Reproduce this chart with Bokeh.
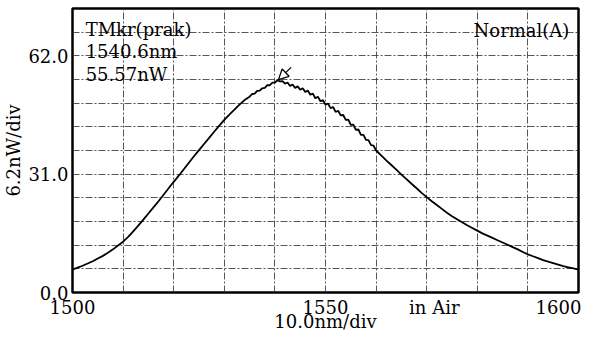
from bokeh.plotting import figure
from bokeh.models import (Range1d, FixedTicker, Label, Arrow, NormalHead, ColumnDataSource)
from bokeh.embed import file_html
from bokeh.resources import INLINE

# ---- data ----
wavelength = [1500, 1501, 1502, 1503, 1504, 1505, 1506, 1507, 1508, 1509,
              1510, 1511, 1512, 1513, 1514, 1515, 1516, 1517, 1518, 1519,
              1520, 1521, 1522, 1523, 1524, 1525, 1526, 1527, 1528, 1529,
              1530, 1531, 1532, 1533, 1534,
              1535.0, 1535.5, 1536.0, 1536.5, 1537.0, 1537.5, 1538.0, 1538.5,
              1539.0, 1539.5, 1540.0, 1540.5, 1541.0, 1541.5, 1542.0, 1542.5,
              1543.0, 1543.5, 1544.0, 1544.5, 1545.0, 1545.5, 1546.0, 1546.5,
              1547.0, 1547.5, 1548.0, 1548.5, 1549.0, 1549.5, 1550.0, 1550.5,
              1551.0, 1551.5, 1552.0, 1552.5, 1553.0, 1553.5, 1554.0, 1554.5,
              1555.0, 1555.5, 1556.0, 1556.5, 1557.0, 1557.5, 1558.0, 1558.5,
              1559.0, 1559.5, 1560.0,
              1561, 1562, 1563, 1564, 1565, 1566, 1567, 1568, 1569, 1570,
              1571, 1572, 1573, 1574, 1575, 1576, 1577, 1578, 1579, 1580,
              1581, 1582, 1583, 1584, 1585, 1586, 1587, 1588, 1589, 1590,
              1591, 1592, 1593, 1594, 1595, 1596, 1597, 1598, 1599, 1600]
power_nw = [6.0, 6.5, 7.0, 7.6, 8.2, 8.9, 9.6, 10.4, 11.3, 12.3,
            13.3, 14.6, 16.0, 17.5, 19.1, 20.7, 22.3, 23.9, 25.6, 27.3,
            29.0, 30.6, 32.3, 34.0, 35.7, 37.3, 38.9, 40.5, 42.1, 43.7,
            45.2, 46.6, 47.9, 49.2, 50.4,
            51.3, 52.0, 52.1, 52.8, 52.9, 53.5, 53.6, 54.3,
            54.3, 55.0, 55.0, 55.6, 55.3, 55.4, 54.7, 55.0,
            54.1, 54.5, 53.6, 54.0, 53.1, 53.5, 52.5, 52.9,
            51.8, 52.1, 50.9, 51.3, 50.1, 50.4, 49.2, 49.5,
            48.3, 48.6, 47.3, 47.6, 46.4, 46.5, 45.2, 45.3,
            43.9, 44.0, 42.6, 42.7, 41.3, 41.3, 40.0, 39.9,
            38.6, 38.5, 37.2,
            35.9, 34.6, 33.4, 32.2, 30.9, 29.7, 28.5, 27.3, 26.1, 25.0,
            23.9, 22.9, 21.9, 20.9, 20.0, 19.2, 18.4, 17.6, 16.9, 16.2,
            15.5, 14.9, 14.3, 13.7, 13.1, 12.5, 11.9, 11.3, 10.6, 10.0,
            9.5, 9.0, 8.5, 8.1, 7.7, 7.3, 6.9, 6.6, 6.3, 6.0]

x_ticks = [1500, 1550, 1600]
x_tick_labels = {1500: "1500", 1550: "1550", 1600: "1600" + "\u00a0" * 7}
x_axis_title = "10.0nm/div"
y_axis_title = "6.2nW/div"
y_ticks = [0, 31, 62]
y_tick_labels = {0: "0.0", 31: "31.0", 62: "62.0"}
x_grid = [1510, 1520, 1530, 1540, 1550, 1560, 1570, 1580, 1590]
y_grid = [6.2, 12.4, 18.6, 24.8, 31.0, 37.2, 43.4, 49.6, 55.8, 62.0, 68.2]
marker_wl = 1540.6
marker_pw = 55.57
marker_lines = ["TMkr(prak)", "1540.6nm", "55.57nW"]
mode_text = "Normal(A)"
medium_text = "in Air"
medium_wl = 1571.5
x_min, x_max = 1500, 1600
y_min, y_max = 0, 74.4

FONT = "DejaVu Serif"
FS = "18px"

p = figure(width=581, height=334, output_backend="svg", toolbar_location=None,
           x_range=Range1d(x_min, x_max), y_range=Range1d(y_min, y_max),
           min_border_left=0, min_border_right=3, min_border_top=8,
           min_border_bottom=0)
p.background_fill_color = "white"
p.border_fill_color = "white"
p.outline_line_color = "black"
p.outline_line_width = 2.5

# grid
p.xgrid.ticker = FixedTicker(ticks=x_grid)
p.ygrid.ticker = FixedTicker(ticks=y_grid)
for g in (p.xgrid, p.ygrid):
    g.grid_line_color = "#3a3a3a"
    g.grid_line_dash = "7 2 2 2"
    g.grid_line_width = 1
    g.grid_line_alpha = 0.85

# axes
xa = p.xaxis[0]
xa.ticker = FixedTicker(ticks=x_ticks + [medium_wl])
overrides = dict(x_tick_labels)
overrides[medium_wl] = medium_text
xa.major_label_overrides = overrides
xa.axis_label = x_axis_title
ya = p.yaxis[0]
ya.ticker = FixedTicker(ticks=y_ticks)
ya.major_label_overrides = y_tick_labels
ya.axis_label = y_axis_title
for ax in (xa, ya):
    ax.axis_line_color = None
    ax.major_tick_line_color = None
    ax.minor_tick_line_color = None
    ax.major_tick_out = 0
    ax.major_tick_in = 0
    ax.minor_tick_out = 0
    ax.minor_tick_in = 0
    ax.major_label_text_font = FONT
    ax.major_label_text_font_size = FS
    ax.major_label_text_color = "black"
    ax.major_label_text_line_height = 1.0
    ax.axis_label_text_font = FONT
    ax.axis_label_text_font_size = FS
    ax.axis_label_text_font_style = "normal"
    ax.axis_label_text_color = "black"
    ax.axis_label_text_line_height = 1.0
xa.major_label_standoff = 4
xa.axis_label_standoff = -10
ya.major_label_standoff = 4
ya.axis_label_standoff = 1

# curve
src = ColumnDataSource(data=dict(x=wavelength, y=power_nw))
p.line("x", "y", source=src, line_color="black", line_width=1.8)

# marker arrow at the peak
p.add_layout(Arrow(end=NormalHead(size=10, fill_color="white", line_color="black", line_width=1.3),
                   x_start=marker_wl + 2.6, y_start=marker_pw + 3.4,
                   x_end=marker_wl + 0.1, y_end=marker_pw + 0.2,
                   line_color="black", line_width=1.3))

# texts inside the frame
span_x = x_max - x_min
span_y = y_max - y_min
for i, t in enumerate(marker_lines):
    p.add_layout(Label(x=x_min + 0.026 * span_x, y=y_max - (0.073 + 0.08 * i) * span_y,
                       text=t, text_font=FONT, text_font_size=FS, text_color="black",
                       text_baseline="alphabetic", text_align="left"))
p.add_layout(Label(x=x_max - 0.018 * span_x, y=y_max - 0.076 * span_y, text=mode_text,
                   text_font=FONT, text_font_size=FS, text_color="black",
                   text_baseline="alphabetic", text_align="right"))

open("out.html", "w").write(file_html(p, INLINE))
